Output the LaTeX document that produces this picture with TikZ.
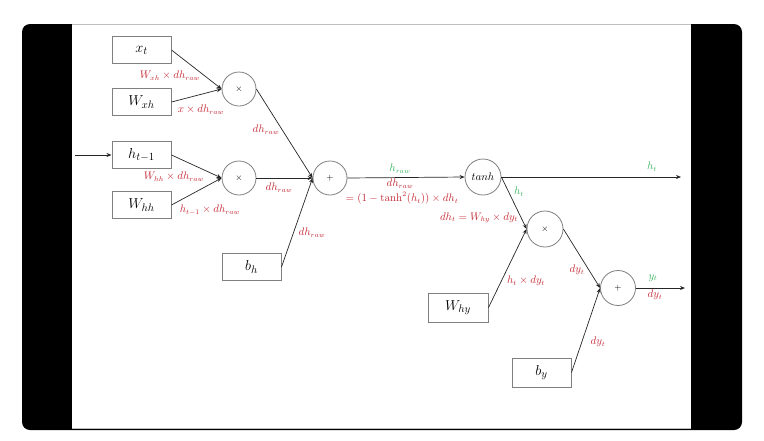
\documentclass[tikz,border=0pt]{standalone}
\usetikzlibrary{arrows.meta}
\definecolor{lblred}{RGB}{196,40,52}
\definecolor{lblgreen}{RGB}{55,180,95}
\tikzset{
  box/.style={draw=black!50, line width=1pt, fill=white, minimum width=59pt, minimum height=27pt, inner sep=0pt, font=\fontsize{15}{18}\selectfont},
  opc/.style={circle, draw=black!50, line width=0.8pt, fill=white, minimum size=34pt, inner sep=0pt, font=\fontsize{9}{10}\selectfont},
  conn/.style={-{Stealth[length=5pt,width=4pt]}, line width=0.7pt, draw=black!85},
  rl/.style={text=lblred, inner sep=0pt, font=\fontsize{10.5}{12}\selectfont},
  gl/.style={text=lblgreen, inner sep=0pt, font=\fontsize{10.5}{12}\selectfont}
}
\begin{document}
\begin{tikzpicture}[x=1pt,y=-1pt]
\useasboundingbox (0,0) rectangle (764,440);
\fill[white] (0,0) rectangle (764,440);
% frame
\fill[black, rounded corners=8pt] (22,24) rectangle (742,430);
\fill[white] (72,24) rectangle (691,429);
\draw[black!25, line width=0.8pt] (72,24.5) -- (691,24.5);
\draw[black!25, line width=0.8pt] (72,428.5) -- (691,428.5);

% nodes
\node[box] (xt) at (141.5,50) {$x_t$};
\node[box] (Wxh) at (141.5,102) {$W_{xh}$};
\node[box] (ht1) at (141.5,155) {$h_{t-1}$};
\node[box] (Whh) at (141.5,205) {$W_{hh}$};
\node[box] (bh) at (251.5,267) {$b_h$};
\node[box, minimum width=60pt, minimum height=29pt] (Why) at (458,307.5) {$W_{hy}$};
\node[box, minimum height=29pt] (by) at (541.5,372.5) {$b_y$};

\node[opc] (m1) at (239,89) {$\times$};
\node[opc] (m2) at (239,178) {$\times$};
\node[opc] (p1) at (330,178) {$+$};
\node[opc, minimum size=36pt, font=\fontsize{11}{12}\selectfont] (th) at (483,177) {$tanh$};
\node[opc, minimum size=36pt] (m3) at (545,229) {$\times$};
\node[opc, minimum size=35pt] (p2) at (618,288) {$+$};

\coordinate (in) at (75,155);
\coordinate (hout) at (681,177);
\coordinate (yout) at (685,288);

% connectors
\draw[conn] (in) -- (ht1.west);
\draw[conn] (xt.east) -- (m1.west);
\draw[conn] (Wxh.east) -- (m1.west);
\draw[conn] (ht1.east) -- (m2.west);
\draw[conn] (Whh.east) -- (m2.west);
\draw[conn] (m1.east) -- (p1.west);
\draw[conn] (m2.east) -- (p1.west);
\draw[conn] (bh.east) -- (p1.west);
\draw[conn] (p1.east) -- (th.west);
\draw[conn] (th.east) -- (hout);
\draw[conn] (th.east) -- (m3.west);
\draw[conn] (Why.east) -- (m3.west);
\draw[conn] (m3.east) -- (p2.west);
\draw[conn] (by.east) -- (p2.west);
\draw[conn] (p2.east) -- (yout);

% labels
\node[rl] (l1) at (170,76) {$W_{xh}\times dh_{raw}$};
\node[rl] (l2) at (201,110) {$x\times dh_{raw}$};
\node[rl] (l3) at (266,130) {$dh_{raw}$};
\node[rl] (l4) at (174,177) {$W_{hh}\times dh_{raw}$};
\node[rl] (l5) at (210,210) {$h_{t-1}\times dh_{raw}$};
\node[rl] (l6) at (279,188) {$dh_{raw}$};
\node[rl] (l7) at (312,233) {$dh_{raw}$};
\node[gl] (l8) at (400,169) {$h_{raw}$};
\node[rl] (l9) at (400,184) {$dh_{raw}$};
\node[rl] (l10) at (402,198) {$=(1-\tanh^2(h_t))\times dh_t$};
\node[gl] (l11) at (519,192) {$h_t$};
\node[rl] (l12) at (479,218) {$dh_t=W_{hy}\times dy_t$};
\node[rl] (l13) at (526,281) {$h_t\times dy_t$};
\node[rl] (l14) at (577,270) {$dy_t$};
\node[gl] (l15) at (652,167) {$h_t$};
\node[gl] (l16) at (653,278) {$y_t$};
\node[rl] (l17) at (655,295) {$dy_t$};
\node[rl] (l18) at (598,342) {$dy_t$};
\end{tikzpicture}
\end{document}
